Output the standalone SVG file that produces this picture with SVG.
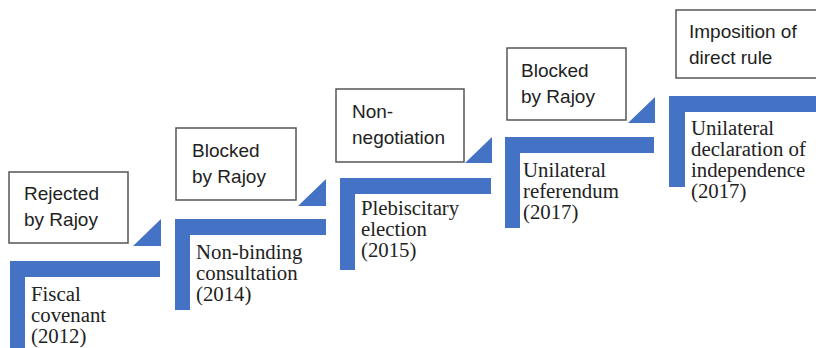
<svg xmlns="http://www.w3.org/2000/svg" width="816" height="348" viewBox="0 0 816 348">
<style>
.step{fill:#4472C4}
.tri{fill:#4472C4}
.box{fill:#fff;stroke:#555;stroke-width:1.5}
.bt{font-family:"Liberation Sans",Arial,sans-serif;font-size:19px;fill:#222}
.st{font-family:"Liberation Serif","Times New Roman",serif;font-size:20.8px;fill:#222}
</style>
<rect width="816" height="348" fill="#fff"/>
<g id="connectors">
<polygon class="tri" points="133,246 161,246 161,219"/>
<polygon class="tri" points="298,206 326,206 326,179"/>
<polygon class="tri" points="465,163 492,163 492,137"/>
<polygon class="tri" points="628,123 655,123 655,97"/>
</g>
<g id="step1">
<path class="step" d="M10,261 H160 V277 H25 V348 H10 Z"/>
<text class="st" x="31" y="301">Fiscal</text>
<text class="st" x="31" y="322">covenant</text>
<text class="st" x="31" y="343">(2012)</text>
</g>
<g id="step2">
<path class="step" d="M175,219 H326 V235 H190 V310 H175 Z"/>
<text class="st" x="196" y="259">Non-binding</text>
<text class="st" x="196" y="280">consultation</text>
<text class="st" x="196" y="301">(2014)</text>
</g>
<g id="step3">
<path class="step" d="M340,178 H491 V194 H355 V270 H340 Z"/>
<text class="st" x="361" y="215">Plebiscitary</text>
<text class="st" x="361" y="236">election</text>
<text class="st" x="361" y="257">(2015)</text>
</g>
<g id="step4">
<path class="step" d="M505,137 H654 V153 H520 V228 H505 Z"/>
<text class="st" x="523" y="177">Unilateral</text>
<text class="st" x="523" y="198">referendum</text>
<text class="st" x="523" y="219">(2017)</text>
</g>
<g id="step5">
<path class="step" d="M669,96 H816 V112 H685 V187 H669 Z"/>
<text class="st" x="691" y="135">Unilateral</text>
<text class="st" x="691" y="156">declaration of</text>
<text class="st" x="691" y="177">independence</text>
<text class="st" x="691" y="198">(2017)</text>
</g>
<g id="box1">
<rect class="box" x="9" y="172" width="119" height="71"/>
<text class="bt" x="24" y="200">Rejected</text>
<text class="bt" x="24" y="226">by Rajoy</text>
</g>
<g id="box2">
<rect class="box" x="176" y="128" width="120" height="72"/>
<text class="bt" x="192" y="157">Blocked</text>
<text class="bt" x="192" y="183">by Rajoy</text>
</g>
<g id="box3">
<rect class="box" x="336" y="89" width="128" height="73"/>
<text class="bt" x="352" y="118">Non-</text>
<text class="bt" x="352" y="144">negotiation</text>
</g>
<g id="box4">
<rect class="box" x="507" y="48" width="119" height="72"/>
<text class="bt" x="521" y="77">Blocked</text>
<text class="bt" x="521" y="103">by Rajoy</text>
</g>
<g id="box5">
<rect class="box" x="676" y="10" width="145" height="68"/>
<text class="bt" x="689" y="38">Imposition of</text>
<text class="bt" x="689" y="64">direct rule</text>
</g>
</svg>
